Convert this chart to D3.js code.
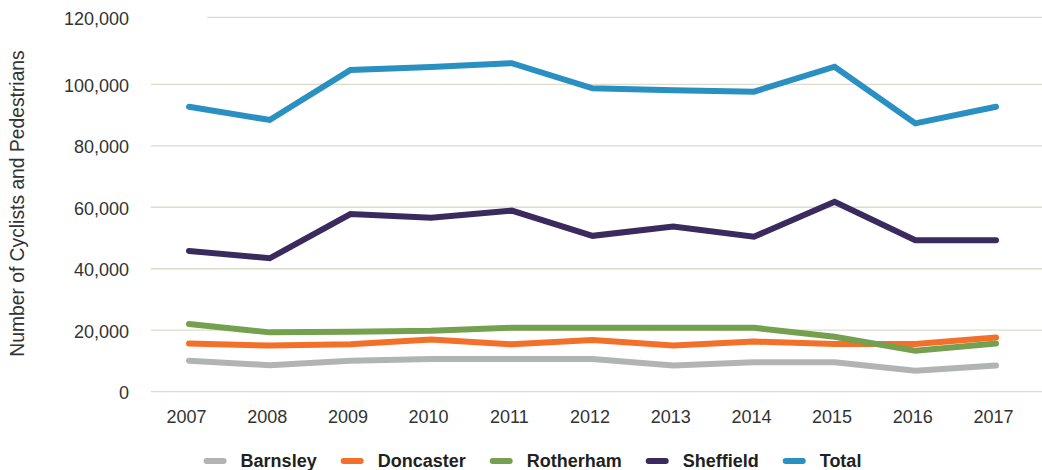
<!DOCTYPE html>
<html>
<head>
<meta charset="utf-8">
<script src="https://cdn.jsdelivr.net/npm/d3@7"></script>
<style>
  body { margin: 0; background: #fff; }
  svg { display: block; font-family: "Liberation Sans", Arial, sans-serif; }
</style>
</head>
<body>
<svg id="chart" width="1042" height="470"></svg>
<script>
// years along the x axis
const years = [2007, 2008, 2009, 2010, 2011, 2012, 2013, 2014, 2015, 2016, 2017];

// counts
const barnsley  = [10100, 8600, 10100, 10600, 10600, 10600, 8500, 9600, 9600, 6800, 8500];
const doncaster = [15700, 15000, 15400, 17000, 15400, 16800, 15000, 16300, 15500, 15500, 17600];
const rotherham = [22000, 19300, 19500, 19800, 20800, 20800, 20800, 20800, 17900, 13300, 15700];
const sheffield = [45800, 43400, 57800, 56600, 58900, 50700, 53700, 50400, 61800, 49300, 49300];
const total     = [92700, 88400, 104300, 105200, 106300, 98700, 98100, 97600, 105250, 87300, 92700];

const seriesNames = ['Barnsley', 'Doncaster', 'Rotherham', 'Sheffield', 'Total'];
const seriesColors = ['#b0b5b4', '#f2702a', '#75a050', '#3b2a5e', '#2a8fc1'];
const yTicks = [0, 20000, 40000, 60000, 80000, 100000, 120000];

const series = [barnsley, doncaster, rotherham, sheffield, total].map((vals, i) => ({
  name: seriesNames[i],
  color: seriesColors[i],
  values: vals.map((v, j) => ({ year: years[j], value: v }))
}));

const svg = d3.select('#chart');

const x = d3.scalePoint()
  .domain(years)
  .range([189, 996]);

// the top gridline in the reference sits a little higher than a straight scale would put it
const y = d3.scaleLinear()
  .domain([0, 100000, 120000])
  .range([391.7, 84.3, 17.3]);

// gridlines
svg.append('g')
  .selectAll('line')
  .data(yTicks)
  .enter()
  .append('line')
  .attr('x1', d => d === 120000 ? 207 : 151)
  .attr('x2', 1042)
  .attr('y1', d => y(d))
  .attr('y2', d => y(d))
  .attr('stroke', '#dcdccb')
  .attr('stroke-width', 1.3);

// y axis labels
const yAxis = d3.axisLeft(y)
  .tickValues(yTicks)
  .tickFormat(d3.format(','))
  .tickSize(0)
  .tickPadding(0);

svg.append('g')
  .attr('transform', 'translate(129,0)')
  .call(yAxis)
  .call(g => g.select('.domain').remove())
  .call(g => g.selectAll('text')
    .attr('font-size', 18)
    .attr('font-family', '"Liberation Sans", Arial, sans-serif')
    .attr('fill', '#333')
    .attr('dy', '0.4em'));

// x axis labels
const xAxis = d3.axisBottom(x)
  .tickSize(0)
  .tickPadding(0);

svg.append('g')
  .attr('transform', 'translate(-3,409)')
  .call(xAxis)
  .call(g => g.select('.domain').remove())
  .call(g => g.selectAll('text')
    .attr('font-size', 18)
    .attr('font-family', '"Liberation Sans", Arial, sans-serif')
    .attr('fill', '#333')
    .attr('dy', '0.75em'));

// axis title
svg.append('text')
  .attr('transform', 'translate(24,203.5) rotate(-90)')
  .attr('text-anchor', 'middle')
  .attr('font-size', 19.3)
  .attr('fill', '#333')
  .text('Number of Cyclists and Pedestrians');

// lines
const line = d3.line()
  .x(d => x(d.year))
  .y(d => y(d.value));

svg.append('g')
  .selectAll('path')
  .data(series)
  .enter()
  .append('path')
  .attr('d', d => line(d.values))
  .attr('fill', 'none')
  .attr('stroke', d => d.color)
  .attr('stroke-width', 6)
  .attr('stroke-linecap', 'round')
  .attr('stroke-linejoin', 'miter');

// legend
const legend = svg.append('g');
let lx = 0;
series.forEach(s => {
  const item = legend.append('g').attr('transform', `translate(${lx},0)`);
  item.append('line')
    .attr('x1', 3).attr('x2', 20)
    .attr('y1', 0).attr('y2', 0)
    .attr('stroke', s.color)
    .attr('stroke-width', 6)
    .attr('stroke-linecap', 'round');
  const t = item.append('text')
    .attr('x', 37)
    .attr('dy', '0.36em')
    .attr('font-size', 18)
    .attr('font-weight', 'bold')
    .attr('fill', '#231f20')
    .text(s.name);
  lx += 37 + t.node().getComputedTextLength() + 24;
});
const legendWidth = lx - 24;
legend.attr('transform', `translate(${532.5 - legendWidth / 2},461)`);
</script>
</body>
</html>
